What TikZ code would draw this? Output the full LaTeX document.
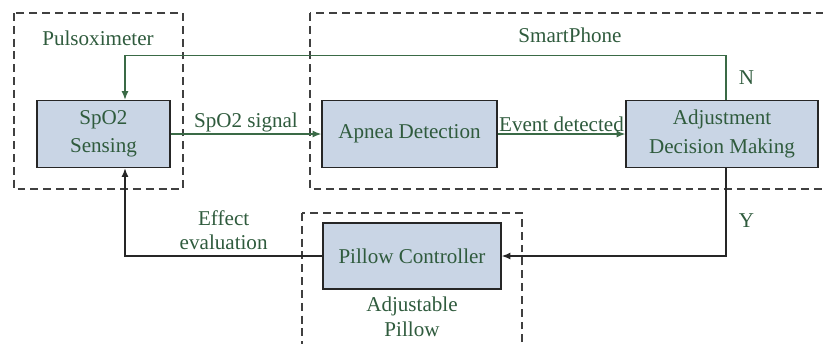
\documentclass[tikz,border=0pt]{standalone}
\usepackage{fontspec}
\setmainfont{Liberation Serif}
\usetikzlibrary{positioning,arrows.meta}
\definecolor{boxfill}{HTML}{C9D5E5}
\definecolor{txtgreen}{HTML}{2F5B3D}
\definecolor{linegreen}{HTML}{3A6A46}

\begin{document}
\begin{tikzpicture}[x=0.02cm,y=-0.02cm,
	font=\fontsize{12}{14}\selectfont,
	block/.style={draw=black!85,line width=0.8pt,fill=boxfill,text=txtgreen,
		align=center,minimum height=1.34cm,inner sep=2pt},
	group/.style={draw=black!75,line width=0.6pt,dash pattern=on 4.5pt off 2.8pt},
	tag/.style={text=txtgreen,align=center,inner sep=1pt},
	flow/.style={draw=linegreen,line width=0.75pt,-{Latex[length=5pt,width=4pt]}},
	back/.style={draw=black!85,line width=0.75pt,-{Latex[length=5pt,width=4pt]}}]
				\useasboundingbox (0,0) rectangle (823,343);
				% The four blocks
				\node[block,minimum width=2.66cm] (sense) at (103.5,134) {SpO2\\[2pt]Sensing};
				\node[block,minimum width=3.5cm] (detect) at (409.5,134) {Apnea Detection};
				\node[block,minimum width=3.84cm] (decide) at (722,134) {Adjustment\\[2pt]Decision Making};
				\node[block,minimum width=3.56cm,minimum height=1.32cm] (pillow) at (412,256) {Pillow Controller};
				% Dashed groups round the devices
				\draw[group] (14,13) rectangle (183,189);
				\draw[group] (310,13) rectangle (840,189);
				\draw[group] (302,213) rectangle (522,360);
				\node[tag] (pulsolbl) at (98,38) {Pulsoximeter};
				\node[tag] (phonelbl) at (570,35) {SmartPhone};
				\node[tag] (pillowlbl) [below=3pt of pillow] {Adjustable\\Pillow};
				% Signal path through the phone
				\draw[flow] (sense) -- node[tag,above] {SpO2 signal} (detect);
				\draw[flow] (detect) -- node[tag,above] {Event detected} (decide);
				% Decision: N goes back to sensing, Y goes to the pillow
				\draw[flow] ([xshift=0.08cm]decide.north) -- node[tag,right=6pt] {N} ++(0,-44)
							-| ([xshift=0.43cm]sense.north);
				\draw[back] ([xshift=0.08cm]decide.south) |- node[tag,pos=0.3,right=6pt] {Y} (pillow.east);
				\draw[back] (pillow.west) -| node[tag,pos=0.25,above=2pt] {Effect\\evaluation}
							([xshift=0.43cm]sense.south);
			\end{tikzpicture}
\end{document}
